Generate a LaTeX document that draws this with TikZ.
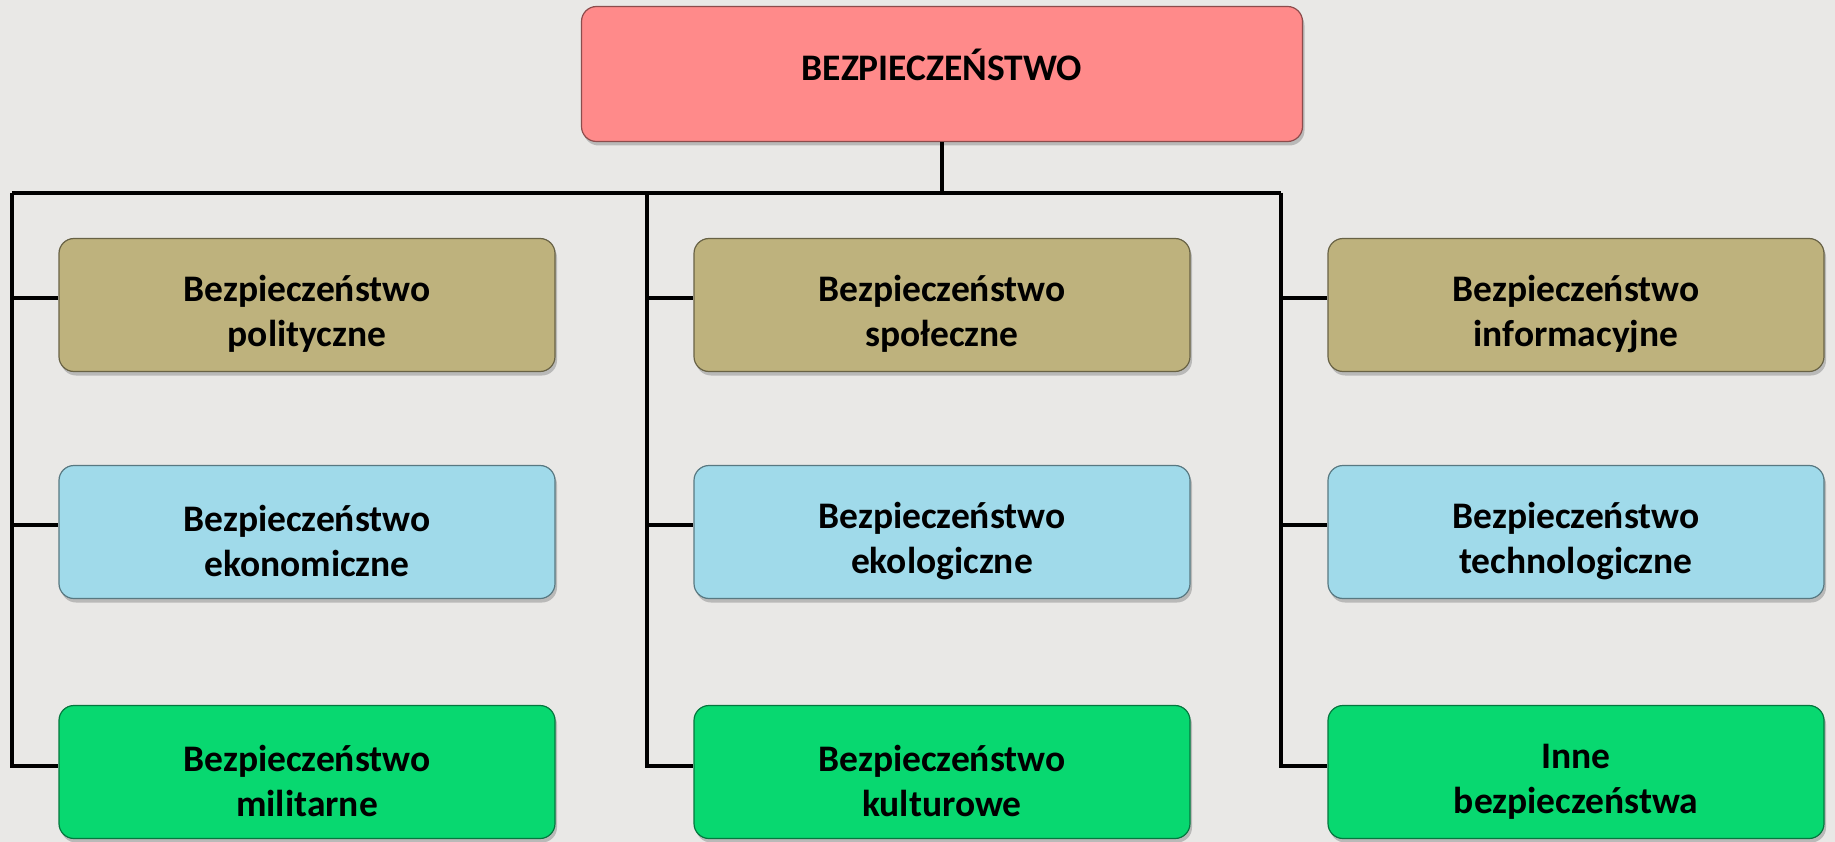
\documentclass[tikz,border=0pt]{standalone}
\usepackage{fontspec}
\setmainfont{Carlito}
\usetikzlibrary{shadows}
\definecolor{bgray}{RGB}{233,232,230}
\definecolor{topred}{RGB}{255,138,138}
\definecolor{olive}{RGB}{190,178,125}
\definecolor{skyblue}{RGB}{160,218,234}
\definecolor{mint}{RGB}{8,216,112}
\newcommand\boxstrut{\rule{0pt}{44pt}}
\tikzset{x=1pt,y=-1pt,
    box/.style={fill=#1,draw=#1!55!black,line width=1.2pt,rounded corners=15pt,
        minimum width=496pt,minimum height=133pt,align=center,
        font=\fontsize{37.5}{45}\selectfont\bfseries,
        drop shadow={shadow xshift=2pt,shadow yshift=-4pt,opacity=0.45}},
    link/.style={draw,line width=3.4pt}}
\begin{document}
\begin{tikzpicture}
	\path[use as bounding box,fill=bgray] (0,0) rectangle (1835,842);
	\coordinate (bl) at (12,193);
	\coordinate (bm) at (647,193);
	\coordinate (br) at (1281,193);
	\node[box=topred,minimum width=721pt,minimum height=135pt] (top) at (942,74) {BEZPIECZEŃSTWO\rule[-18pt]{0pt}{1pt}};
	\node[box=olive] (pol) at (307,305) {\boxstrut Bezpieczeństwo\\polityczne};
	\node[box=olive] (spo) at (942,305) {\boxstrut Bezpieczeństwo\\społeczne};
	\node[box=olive] (inf) at (1576,305) {\boxstrut Bezpieczeństwo\\informacyjne};
	\node[box=skyblue] (eko) at (307,532) {\boxstrut Bezpieczeństwo\\ekonomiczne};
	\node[box=skyblue] (ekl) at (942,532) {\boxstrut Bezpieczeństwo\\ekologiczne};
	\node[box=skyblue] (tec) at (1576,532) {\boxstrut Bezpieczeństwo\\technologiczne};
	\node[box=mint] (mil) at (307,772) {\boxstrut Bezpieczeństwo\\militarne};
	\node[box=mint] (kul) at (942,772) {\boxstrut Bezpieczeństwo\\kulturowe};
	\node[box=mint] (inn) at (1576,772) {\boxstrut Inne\\bezpieczeństwa};
	\draw[link] (top.south) -- (top.south |- bl);
	\draw[link] (bl) -- (br);
	\draw[link] (bl) |- ([yshift=6pt]mil.west);
	\draw[link] (bm) |- ([yshift=6pt]kul.west);
	\draw[link] (br) |- ([yshift=6pt]inn.west);
	\draw[link] (bl |- pol.west) ++(0,-7) -- ([yshift=7pt]pol.west);
	\draw[link] (bl |- eko.west) ++(0,-7) -- ([yshift=7pt]eko.west);
	\draw[link] (bm |- spo.west) ++(0,-7) -- ([yshift=7pt]spo.west);
	\draw[link] (bm |- ekl.west) ++(0,-7) -- ([yshift=7pt]ekl.west);
	\draw[link] (br |- inf.west) ++(0,-7) -- ([yshift=7pt]inf.west);
	\draw[link] (br |- tec.west) ++(0,-7) -- ([yshift=7pt]tec.west);
\end{tikzpicture}
\end{document}
